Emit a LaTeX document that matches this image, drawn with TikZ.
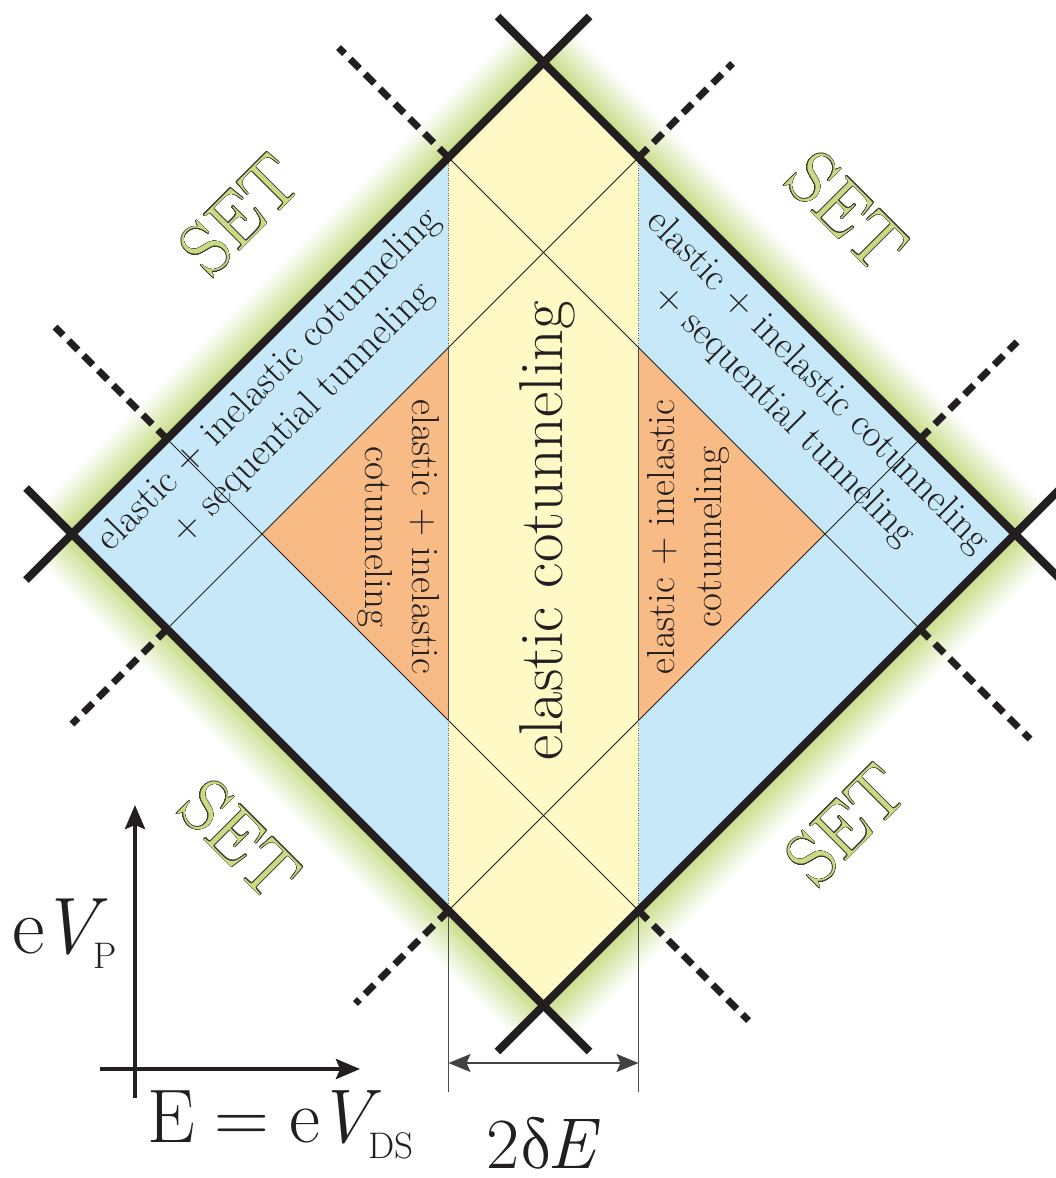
\documentclass[tikz,border=0pt]{standalone}
\usepackage{fontspec}
\usepackage{unicode-math}
\usepackage{contour}
\usetikzlibrary{arrows.meta,calc}
\definecolor{blueR}{RGB}{198,232,248}
\definecolor{yellowR}{RGB}{255,249,198}
\definecolor{orangeR}{RGB}{249,187,133}
\definecolor{glowR}{RGB}{198,219,130}
\definecolor{setR}{RGB}{201,220,132}
\definecolor{inkR}{RGB}{35,31,32}
\definecolor{setline}{RGB}{60,60,50}
\contourlength{0.45pt}
\contournumber{24}
\tikzset{
  thickedge/.style={line width=8pt, inkR},
  thinline/.style={line width=1pt, inkR},
  dashext/.style={line width=7pt, inkR, dash pattern=on 13pt off 8pt},
  vguide/.style={line width=1.2pt, inkR!80},
  dotguide/.style={line width=0.9pt, inkR!70, dash pattern=on 1pt off 1.5pt},
  settext/.style={font=\fontsize{74}{74}\selectfont, text=setR, inner sep=0pt},
  regtext/.style={font=\fontsize{39}{47}\selectfont, align=center, text=inkR},
  axisline/.style={line width=4pt, inkR, -{Stealth[length=24pt,width=20pt,inset=4pt]}},
  dimline/.style={line width=1.8pt, inkR!85, {Stealth[length=22pt,width=18pt,inset=4pt]}-{Stealth[length=22pt,width=18pt,inset=4pt]}},
}
\begin{document}
\begin{tikzpicture}[x=1pt,y=-1pt]
\useasboundingbox (0,0) rectangle (1056,1178);
% main points
\coordinate (C) at (543.5,534);
\coordinate (L) at (72,534);
\coordinate (T) at (543.5,62.5);
\coordinate (R) at (1015,534);
\coordinate (B) at (543.5,1005.5);
% extended edge ends
\coordinate (ULa) at (26,580);
\coordinate (ULb) at (589.5,16.5);
\coordinate (URa) at (497.5,16.5);
\coordinate (URb) at (1061,580);
\coordinate (LRa) at (1061,488);
\coordinate (LRb) at (497.5,1051.5);
\coordinate (LLa) at (589.5,1051.5);
\coordinate (LLb) at (26,488);
% strip corners
\coordinate (SA) at (448.5,157.5);
\coordinate (SB) at (638.5,157.5);
\coordinate (SC) at (638.5,910.5);
\coordinate (SD) at (448.5,910.5);
% orange triangles
\coordinate (OL1) at (262,534);
\coordinate (OL2) at (448.5,347.5);
\coordinate (OL3) at (448.5,720.5);
\coordinate (OR1) at (825,534);
\coordinate (OR2) at (638.5,347.5);
\coordinate (OR3) at (638.5,720.5);
% thin line ends on outer edges
\coordinate (P1) at (920,629);
\coordinate (P2) at (920,439);
\coordinate (P3) at (167,629);
\coordinate (P4) at (167,439);
% dashed ends
\coordinate (E1) at (338.5,47.5);
\coordinate (E2) at (1030,739);
\coordinate (E3) at (355.5,1003.5);
\coordinate (E4) at (1017,342);
\coordinate (E5) at (732.5,63.5);
\coordinate (E6) at (72,724);
\coordinate (E7) at (748.5,1020.5);
\coordinate (E8) at (55,327);
% guide ends and dimension
\coordinate (VL) at (448.5,1092);
\coordinate (VR) at (638.5,1092);
\coordinate (DL) at (448.5,1063);
\coordinate (DR) at (638.5,1063);
% axes
\coordinate (AV1) at (135,1098);
\coordinate (AV2) at (135,805);
\coordinate (AH1) at (100,1069);
\coordinate (AH2) at (360,1069);

% glow
\foreach \P/\Q/\nx/\ny in {L/T/-1/-1, T/R/1/-1, R/B/1/1, B/L/-1/1}{
  \foreach \i [evaluate=\i as \a using {\i*1.25},
               evaluate=\i as \b using {\i*1.25+1.6},
               evaluate=\i as \p using {int(100-\i*100/24)}] in {0,...,23}{
    \fill[glowR!\p!white] ($(\P)+(\nx*\a,\ny*\a)$) -- ($(\Q)+(\nx*\a,\ny*\a)$)
      -- ($(\Q)+(\nx*\b,\ny*\b)$) -- ($(\P)+(\nx*\b,\ny*\b)$) -- cycle;
  }
}

% regions
\fill[blueR] (L) -- (T) -- (R) -- (B) -- cycle;
\fill[yellowR] (SA) -- (T) -- (SB) -- (SC) -- (B) -- (SD) -- cycle;
\fill[orangeR] (OL1) -- (OL2) -- (OL3) -- cycle;
\fill[orangeR] (OR1) -- (OR2) -- (OR3) -- cycle;

% thin lines
\draw[thinline] (SA) -- (P1);
\draw[thinline] (SD) -- (P2);
\draw[thinline] (SB) -- (P3);
\draw[thinline] (SC) -- (P4);
\draw[dotguide] (SA) -- (SD);
\draw[dotguide] (SB) -- (SC);
\draw[vguide] (OL2) -- (OL3);
\draw[vguide] (OR2) -- (OR3);
\draw[vguide] (SD) -- (VL);
\draw[vguide] (SC) -- (VR);
\draw[dimline] (DL) -- (DR);

% thick outer edges
\draw[thickedge] (ULa) -- (ULb);
\draw[thickedge] (URa) -- (URb);
\draw[thickedge] (LRa) -- (LRb);
\draw[thickedge] (LLa) -- (LLb);

% dashed extensions
\draw[dashext] (SA) -- (E1);
\draw[dashext] (P1) -- (E2);
\draw[dashext] (SD) -- (E3);
\draw[dashext] (P2) -- (E4);
\draw[dashext] (SB) -- (E5);
\draw[dashext] (P3) -- (E6);
\draw[dashext] (SC) -- (E7);
\draw[dashext] (P4) -- (E8);

% axes
\draw[axisline] (AV1) -- (AV2);
\draw[axisline] (AH1) -- (AH2);

% texts
\node[settext, rotate=45] (set1) at (240,215) {\contour{setline}{SET}};
\node[settext, rotate=-45] (set2) at (847,212) {\contour{setline}{SET}};
\node[settext, rotate=-45] (set3) at (240,840) {\contour{setline}{SET}};
\node[settext, rotate=45] (set4) at (846,825) {\contour{setline}{SET}};

\node[regtext, rotate=45] (txtL) at (286,397) {elastic + inelastic cotunneling\\+ sequential tunneling};
\node[regtext, rotate=-45] (txtR) at (801,399) {elastic + inelastic cotunneling\\+ sequential tunneling};
\node[regtext, rotate=-90] (orL) at (399,537) {elastic + inelastic\\cotunneling};
\node[regtext, rotate=90] (orR) at (688,537) {elastic + inelastic\\cotunneling};
\node[text=inkR, font=\fontsize{62}{62}\selectfont, rotate=90] (ecot) at (547,531) {elastic cotunneling};

\node[anchor=base west, inner sep=0pt, text=inkR] (evp) at (12,953)
  {\fontsize{80}{80}\selectfont e\kern-5pt{\itshape V}\kern-4pt\raisebox{-15pt}{\fontsize{37}{37}\selectfont P}};
\node[anchor=base west, inner sep=0pt, text=inkR] (eds) at (147,1142)
  {\fontsize{76}{76}\selectfont E\hspace{20pt}=\hspace{20pt}e\kern-4pt{\itshape V}\kern-3pt\raisebox{-16pt}{\fontsize{37}{37}\selectfont DS}};
\node[anchor=base west, inner sep=0pt, text=inkR] (dE) at (486,1168)
  {\fontsize{72}{72}\selectfont 2$\symup{\delta}$\kern-6pt{\itshape E}};
\end{tikzpicture}
\end{document}
